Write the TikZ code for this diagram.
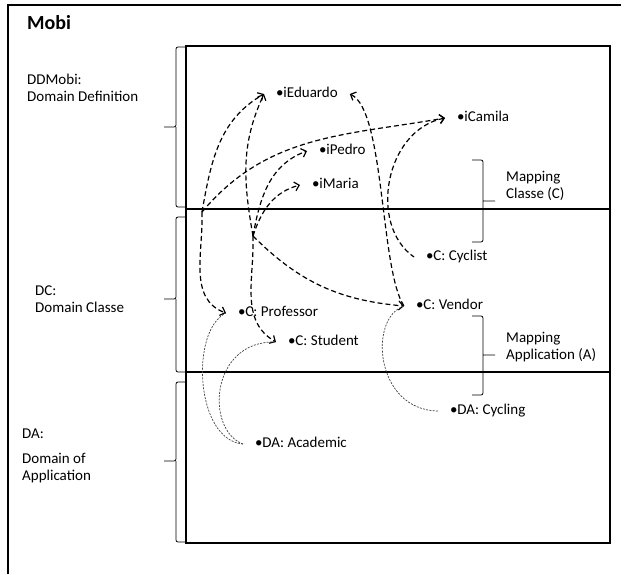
\documentclass[tikz,border=0pt]{standalone}
\usepackage{fontspec}
\setmainfont{Carlito}
\usetikzlibrary{arrows.meta}

\begin{document}
\begin{tikzpicture}[x=1pt, y=1pt,
    frame/.style={line width=2.6pt},
    bracket/.style={line width=0.8pt, rounded corners=2pt},
    item/.style={anchor=west, inner sep=0pt, outer xsep=12pt, text height=10pt, text depth=3pt,
        font=\fontsize{15}{17}\selectfont},
    side/.style={anchor=north west, align=left, inner sep=0pt, font=\fontsize{15}{17}\selectfont},
    link/.style={line width=1.2pt, dash pattern=on 5pt off 3pt},
    tie/.style={line width=0.7pt, black!75, dash pattern=on 2pt off 1.3pt},
    tip/.style={-{Straight Barb[length=4.5pt,width=9pt]}},
    tipback/.style={{Straight Barb[length=4.5pt,width=9pt]}-}]

    \useasboundingbox (0,0) rectangle (624,-574);

    % frames
    \draw[frame] (8,-574) -- (8,-5) -- (621,-5);
    \draw[frame] (186,-46) rectangle (610,-543);
    \draw[frame] (186,-209) -- (610,-209) (186,-372) -- (610,-372);

    % brackets
    \foreach \t/\m/\b in {47/127/207, 217/299/372, 382/461/542}
        \draw[bracket] (186,-\t) -- (176,-\t) -- (176,-\m) -- (164,-\m)
            (176,-\m) -- (176,-\b) -- (186,-\b);
    \foreach \t/\m/\b in {160/201/242, 316/355/395}
        \draw[bracket] (472,-\t) -- (483,-\t) -- (483,-\b) -- (472,-\b)
            (483,-\m) -- (495,-\m);

    % labels
    \node[anchor=base west, inner sep=0pt, font=\bfseries\fontsize{20}{22}\selectfont] (title) at (27,-29) {Mobi};
    \node[side] (ddmobi) at (27,-74) {DDMobi:\\Domain Definition};
    \node[side] (dc) at (35,-286) {DC:\\Domain Classe};
    \node[side] (da) at (22,-429) {DA:\\[8pt]Domain of\\Application};
    \node[side] (mapc) at (506,-171) {Mapping\\Classe (C)};
    \node[side] (mapa) at (506,-332) {Mapping\\Application (A)};

    % instances, classes, domains
    \node[item] (ieduardo) at (264,-94) {•iEduardo};
    \node[item] (icamila)  at (445,-118) {•iCamila};
    \node[item] (ipedro)   at (307,-151) {•iPedro};
    \node[item] (imaria)   at (300,-185) {•iMaria};
    \node[item] (ccyclist) at (414,-257) {•C: Cyclist};
    \node[item] (cvendor)  at (404,-306) {•C: Vendor};
    \node[item] (cprof)    at (226,-313) {•C: Professor};
    \node[item] (cstudent) at (276,-342) {•C: Student};
    \node[item] (daacad)   at (243,-444) {•DA: Academic};
    \node[item] (dacycl)   at (438,-411) {•DA: Cycling};

    \coordinate (j1) at (202,-212);
    \coordinate (j2) at (253,-236);

    \path[link]
        (j1) edge[tip, out=80, in=210] (ieduardo.west)
        (j1) edge[tip, out=50, in=190] (icamila.west)
        (j1) edge[tip, out=-88, in=160] (cprof.west)

        (j2) edge[tip, out=100, in=245] (ieduardo.west)
        (j2) edge[tip, out=80, in=200] (ipedro.west)
        (j2) edge[tip, out=72, in=195] (imaria.west)
        (j2) edge[tip, out=-88, in=150] (cstudent.west)
        (j2) edge[tip, out=-45, in=175] (cvendor.west);

    \draw[link, tipback] (ieduardo.east) .. controls (385,-110) and (380,-270) .. (cvendor.west);
    \draw[link, tipback] (icamila.west) .. controls (385,-130) and (368,-225) .. (ccyclist.west);

    \draw[tie] (daacad.west) .. controls (195,-440) and (190,-330) .. (cprof.west);
    \draw[tie] (daacad.west) .. controls (205,-430) and (210,-340) .. (cstudent.west);
    \draw[tie] (dacycl.west) .. controls (375,-410) and (368,-318) .. (cvendor.west);

\end{tikzpicture}
\end{document}
